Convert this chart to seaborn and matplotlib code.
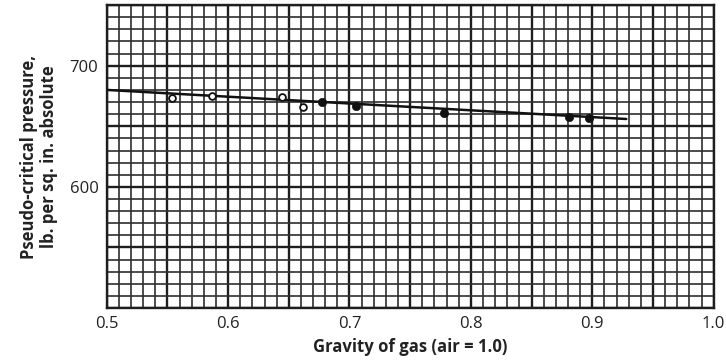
import numpy as np
import pandas as pd
import matplotlib
matplotlib.use("Agg")
import matplotlib.pyplot as plt
import seaborn as sns
from matplotlib.ticker import MultipleLocator, FuncFormatter

# data
gravity_open = [0.554, 0.587, 0.644, 0.662]
pressure_open = [673.6, 675.2, 674.4, 666.1]
gravity_filled = [0.677, 0.705, 0.778, 0.881, 0.897]
pressure_filled = [670.2, 667.0, 661.0, 658.0, 657.0]
fit_gravity = [0.5, 0.928]
fit_pressure = [680.0, 656.0]

x_labels = [0.5, 0.6, 0.7, 0.8, 0.9, 1.0]
y_labels = [600, 700]

sns.set_style("white")
plt.rcParams['font.family'] = ['Open Sans', 'DejaVu Sans']

fig = plt.figure(figsize=(7.26, 3.62), dpi=100)
ax = fig.add_axes([0.147, 0.149, 0.836, 0.837])

fit_df = pd.DataFrame({'g': fit_gravity, 'p': fit_pressure})
sns.lineplot(data=fit_df, x='g', y='p', ax=ax, color='#111111', linewidth=1.8, zorder=3)

open_df = pd.DataFrame({'g': gravity_open, 'p': pressure_open})
sns.scatterplot(data=open_df, x='g', y='p', ax=ax, s=24, facecolor='white',
                edgecolor='#111111', linewidth=1.3, zorder=4)
filled_df = pd.DataFrame({'g': gravity_filled, 'p': pressure_filled})
sns.scatterplot(data=filled_df, x='g', y='p', ax=ax, s=36, color='#111111',
                edgecolor='#111111', zorder=4)

ax.set_xlim(0.5, 1.0)
ax.set_ylim(500, 750)

# graph paper grid: heavy every 0.05 / 50, light every 0.01 / 10
ax.xaxis.set_major_locator(MultipleLocator(0.05))
ax.xaxis.set_minor_locator(MultipleLocator(0.01))
ax.yaxis.set_major_locator(MultipleLocator(50))
ax.yaxis.set_minor_locator(MultipleLocator(10))

def fmt_x(v, pos):
    for lab in x_labels:
        if abs(v - lab) < 1e-6:
            return f"{lab:.1f}"
    return ""

def fmt_y(v, pos):
    for lab in y_labels:
        if abs(v - lab) < 1e-6:
            return f"{lab}"
    return ""

ax.xaxis.set_major_formatter(FuncFormatter(fmt_x))
ax.yaxis.set_major_formatter(FuncFormatter(fmt_y))

ax.grid(which='major', color='#1e1e1e', linewidth=1.7)
ax.grid(which='minor', color='#2e2e2e', linewidth=1.2)
ax.set_axisbelow(True)
ax.tick_params(which='both', length=0, labelsize=12, colors='#222222', pad=6)

for sp in ax.spines.values():
    sp.set_color('#1e1e1e')
    sp.set_linewidth(1.7)

ax.set_xlabel('Gravity of gas (air = 1.0)', fontsize=12, fontweight='bold', color='#222222', labelpad=4)
ax.set_ylabel('Pseudo-critical pressure,\nlb. per sq. in. absolute', fontsize=12,
              fontweight='bold', color='#222222', labelpad=8)

fig.savefig('out.png', dpi=100)
